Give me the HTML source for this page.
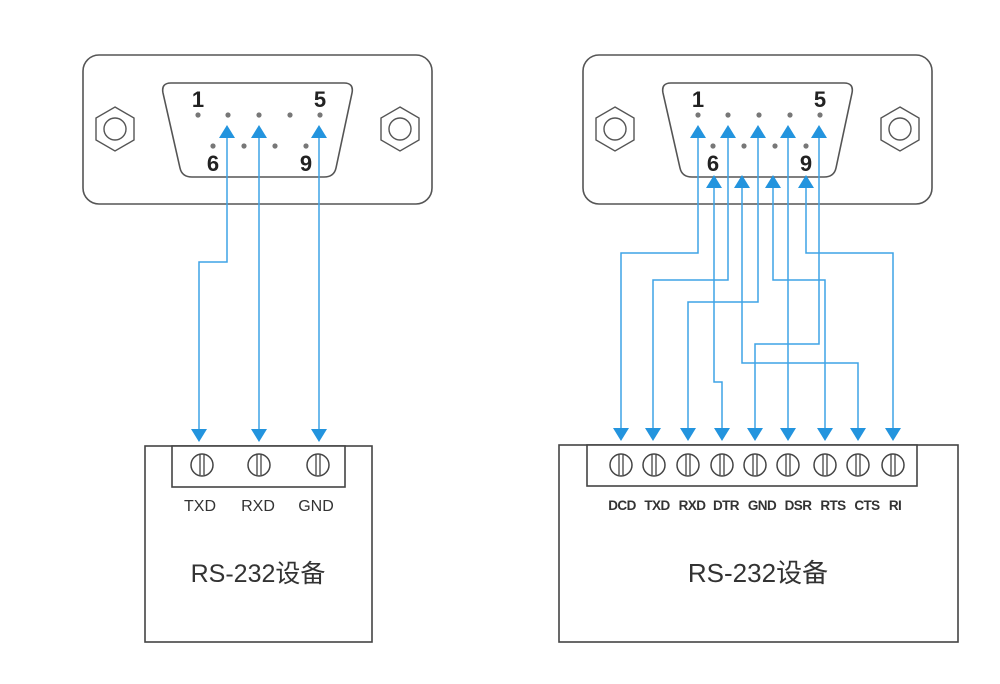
<!DOCTYPE html>
<html><head><meta charset="utf-8"><style>
html,body{margin:0;padding:0;background:#fff;width:1000px;height:684px;overflow:hidden}
text{font-family:"Liberation Sans","Noto Sans CJK SC",sans-serif}
</style></head><body>
<svg width="1000" height="684" viewBox="0 0 1000 684" xmlns="http://www.w3.org/2000/svg">
<defs>
<g id="conn">
  <rect x="83" y="55" width="349" height="149" rx="16" fill="#fff" stroke="#555" stroke-width="1.6"/>
  <path d="M171 83 L344 83 Q354 83 352 93 L336 168 Q334 177 324 177 L192 177 Q182 177 180 168 L163 93 Q161 83 171 83 Z" fill="#fff" stroke="#555" stroke-width="1.6"/>
  <polygon points="115,107 134,118 134,140 115,151 96,140 96,118" fill="none" stroke="#555" stroke-width="1.4"/>
  <circle cx="115" cy="129" r="11" fill="none" stroke="#555" stroke-width="1.4"/>
  <polygon points="400,107 419,118 419,140 400,151 381,140 381,118" fill="none" stroke="#555" stroke-width="1.4"/>
  <circle cx="400" cy="129" r="11" fill="none" stroke="#555" stroke-width="1.4"/>
  <g fill="#777">
    <circle cx="198" cy="115" r="2.6"/><circle cx="228" cy="115" r="2.6"/><circle cx="259" cy="115" r="2.6"/><circle cx="290" cy="115" r="2.6"/><circle cx="320" cy="115" r="2.6"/>
    <circle cx="213" cy="146" r="2.6"/><circle cx="244" cy="146" r="2.6"/><circle cx="275" cy="146" r="2.6"/><circle cx="306" cy="146" r="2.6"/>
  </g>
  <g font-size="22" font-weight="bold" fill="#222" text-anchor="middle">
    <text x="198" y="107">1</text><text x="320" y="107">5</text>
    <text x="213" y="171">6</text><text x="306" y="171">9</text>
  </g>
</g>
<g id="screw">
  <circle cx="0" cy="0" r="11" fill="#fff" stroke="#444" stroke-width="1.5"/>
  <line x1="-2" y1="-10" x2="-2" y2="10" stroke="#444" stroke-width="1.3"/>
  <line x1="2" y1="-10" x2="2" y2="10" stroke="#444" stroke-width="1.3"/>
</g>
</defs>

<use href="#conn"/>
<use href="#conn" x="500"/>

<!-- left device -->
<rect x="145" y="446" width="227" height="196" fill="#fff" stroke="#444" stroke-width="1.6"/>
<rect x="172" y="446" width="173" height="41" fill="#fff" stroke="#444" stroke-width="1.6"/>
<use href="#screw" x="202" y="465"/><use href="#screw" x="259" y="465"/><use href="#screw" x="318" y="465"/>
<g font-size="16" fill="#333" text-anchor="middle">
  <text x="200" y="511">TXD</text><text x="258" y="511">RXD</text><text x="316" y="511">GND</text>
</g>
<text x="258" y="582" font-size="25" fill="#333" text-anchor="middle">RS-232设备</text>

<!-- right device -->
<rect x="559" y="445" width="399" height="197" fill="#fff" stroke="#444" stroke-width="1.6"/>
<rect x="587" y="445" width="330" height="41" fill="#fff" stroke="#444" stroke-width="1.6"/>
<use href="#screw" x="621" y="465"/><use href="#screw" x="654" y="465"/><use href="#screw" x="688" y="465"/>
<use href="#screw" x="722" y="465"/><use href="#screw" x="755" y="465"/><use href="#screw" x="788" y="465"/>
<use href="#screw" x="825" y="465"/><use href="#screw" x="858" y="465"/><use href="#screw" x="893" y="465"/>
<g font-size="13.5" font-weight="bold" fill="#333" text-anchor="middle" letter-spacing="-0.6">
  <text x="622" y="510">DCD</text><text x="657" y="510">TXD</text><text x="692" y="510">RXD</text>
  <text x="726" y="510">DTR</text><text x="762" y="510">GND</text><text x="798" y="510">DSR</text>
  <text x="833" y="510">RTS</text><text x="867" y="510">CTS</text><text x="895" y="510">RI</text>
</g>
<text x="758" y="582" font-size="26" fill="#333" text-anchor="middle">RS-232设备</text>

<!-- wires -->
<g fill="none" stroke="#3ea3e6" stroke-width="1.5">
  <path d="M227 134 V262 H199 V432"/>
  <path d="M259 134 V432"/>
  <path d="M319 134 V432"/>

  <path d="M698 134 V253 H621 V432"/>
  <path d="M728 134 V280 H653 V432"/>
  <path d="M758 134 V302 H688 V432"/>
  <path d="M788 134 V432"/>
  <path d="M819 134 V344 H755 V432"/>
  <path d="M714 184 V382 H722 V432"/>
  <path d="M742 184 V363 H858 V432"/>
  <path d="M773 184 V280 H825 V432"/>
  <path d="M806 184 V253 H893 V432"/>
</g>
<g fill="#2394de">
  <path d="M227 125 l-8 13 h16 z"/><path d="M259 125 l-8 13 h16 z"/><path d="M319 125 l-8 13 h16 z"/>
  <path d="M698 125 l-8 13 h16 z"/><path d="M728 125 l-8 13 h16 z"/><path d="M758 125 l-8 13 h16 z"/>
  <path d="M788 125 l-8 13 h16 z"/><path d="M819 125 l-8 13 h16 z"/>
  <path d="M714 175 l-8 13 h16 z"/><path d="M742 175 l-8 13 h16 z"/><path d="M773 175 l-8 13 h16 z"/><path d="M806 175 l-8 13 h16 z"/>
  <path d="M199 442 l-8 -13 h16 z"/><path d="M259 442 l-8 -13 h16 z"/><path d="M319 442 l-8 -13 h16 z"/>
  <path d="M621 441 l-8 -13 h16 z"/><path d="M653 441 l-8 -13 h16 z"/><path d="M688 441 l-8 -13 h16 z"/>
  <path d="M722 441 l-8 -13 h16 z"/><path d="M755 441 l-8 -13 h16 z"/><path d="M788 441 l-8 -13 h16 z"/>
  <path d="M825 441 l-8 -13 h16 z"/><path d="M858 441 l-8 -13 h16 z"/><path d="M893 441 l-8 -13 h16 z"/>
</g>
</svg>
</body></html>
